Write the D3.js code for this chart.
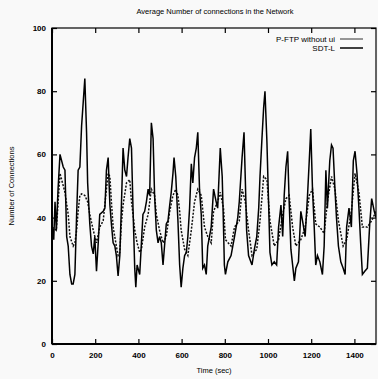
<!DOCTYPE html>
<html lang="en">
<head>
<meta charset="utf-8">
<script src="https://d3js.org/d3.v7.min.js"></script>
<style>
  html, body { margin: 0; padding: 0; background: #f9f9f9; }
  svg { display: block; }
  text { font-family: "Liberation Sans Narrow", "Liberation Sans", Arial, sans-serif; fill: #000; }
</style>
</head>
<body>
<script>
// chart data
const ftpTime = [0, 8, 14, 20, 28, 37, 52, 60, 68, 75, 83, 91, 98, 106, 114, 121, 129, 137, 145, 152, 160, 165, 175, 183, 191, 198, 206, 214, 221, 237, 245, 252, 260, 268, 275, 283, 291, 298, 306, 314, 321, 329, 337, 345, 352, 360, 368, 375, 383, 388, 394, 406, 414, 421, 429, 437, 445, 452, 460, 468, 475, 483, 491, 498, 506, 514, 521, 529, 537, 545, 552, 560, 565, 573, 583, 591, 598, 606, 614, 622, 629, 637, 645, 652, 660, 668, 675, 683, 691, 698, 706, 714, 721, 737, 748, 760, 767, 779, 788, 794, 798, 803, 814, 829, 845, 860, 867, 880, 889, 895, 901, 910, 926, 937, 948, 957, 963, 972, 980, 986, 995, 1003, 1009, 1018, 1029, 1040, 1049, 1060, 1068, 1075, 1083, 1091, 1098, 1106, 1114, 1122, 1129, 1141, 1152, 1160, 1172, 1183, 1191, 1198, 1206, 1214, 1221, 1229, 1240, 1252, 1260, 1268, 1275, 1286, 1294, 1301, 1310, 1317, 1326, 1337, 1348, 1357, 1364, 1375, 1386, 1395, 1403, 1412, 1421, 1429, 1437, 1448, 1460, 1471, 1480, 1492, 1500];
const ftpValue = [38, 33, 45, 36, 49, 60, 56, 55, 34, 31, 22, 19, 19, 22, 41, 55, 56, 69, 77, 84, 67, 51, 38, 31, 28.5, 34, 23, 32, 41, 42, 43, 55, 59, 44, 38, 32, 31, 28, 21.5, 28, 43, 62, 55, 53, 59, 65, 62, 43, 24, 18, 25, 22, 32, 41, 42, 45, 49, 47, 70, 65, 47, 36, 32, 34, 32, 25, 31, 38, 39, 44, 48, 54, 59, 53, 39, 25, 18, 24, 28, 29, 34, 43, 57, 51, 59, 62, 67, 49, 41, 24, 25, 22, 31, 37, 49, 45, 43, 62, 53, 37, 25, 22, 26, 28, 34, 40, 45, 59, 67, 52, 36, 28, 25, 30, 34, 43, 53, 65, 75, 80, 64, 44, 29, 25, 26, 25, 37, 44, 34, 47, 56, 61, 45, 30, 25, 20, 24, 26, 42, 39, 34, 47, 58, 68, 49, 37, 25, 28, 26, 22, 31, 55, 43, 58, 63, 62, 49, 40, 31, 26, 24, 22, 37, 43, 37, 58, 61, 54, 43, 32, 22, 23, 24, 38, 46, 42, 40];

const sdtTime = [0, 20, 37, 60, 75, 83, 98, 106, 114, 121, 129, 137, 152, 165, 175, 191, 206, 221, 237, 252, 260, 268, 275, 283, 298, 306, 314, 321, 329, 345, 360, 368, 375, 383, 394, 406, 414, 429, 445, 460, 475, 483, 498, 514, 529, 545, 560, 573, 583, 591, 598, 614, 629, 645, 660, 675, 691, 706, 721, 737, 748, 767, 779, 794, 803, 829, 845, 867, 880, 895, 910, 926, 948, 963, 980, 995, 1009, 1029, 1049, 1068, 1083, 1098, 1114, 1129, 1152, 1172, 1191, 1206, 1221, 1240, 1260, 1275, 1294, 1310, 1326, 1348, 1364, 1386, 1403, 1421, 1437, 1460, 1480, 1500];
const sdtValue = [37, 36, 54, 48, 41, 34, 31, 32, 36, 42, 47, 47.5, 47, 45, 41, 36, 32, 37, 39, 49, 54, 53, 45, 37, 31, 28, 29, 38, 44, 51, 52, 45, 41, 36, 32, 29, 30, 37, 41, 49, 47, 41, 36, 32, 34, 42, 47, 49, 47, 42, 36, 30, 28, 36, 45, 49, 47, 37, 34, 32, 42, 45, 48, 43, 33, 31, 37, 39, 49, 45, 36, 28, 30, 39, 53, 52, 39, 31, 33, 41, 46, 47, 37, 31, 33, 37, 47, 49, 38, 37, 35, 45, 53, 49, 39, 31, 33, 42, 54, 48, 37, 37, 39, 42];

const xTicks = [0, 200, 400, 600, 800, 1000, 1200, 1400];
const yTicks = [0, 20, 40, 60, 80, 100];
const seriesNames = ["P-FTP without ui", "SDT-L"];

const width = 378, height = 379;
const margin = {left: 52, right: 2, top: 28, bottom: 35};

const svg = d3.select("body").append("svg")
    .attr("width", width)
    .attr("height", height);

const x = d3.scaleLinear().domain([0, 1500]).range([margin.left, width - margin.right]);
const y = d3.scaleLinear().domain([0, 100]).range([height - margin.bottom, margin.top]);

// frame
svg.append("rect")
    .attr("x", x(0)).attr("y", y(100))
    .attr("width", x(1500) - x(0)).attr("height", y(0) - y(100))
    .attr("fill", "none").attr("stroke", "#000").attr("stroke-width", 1.2);
svg.append("line")
    .attr("x1", x(0)).attr("x2", x(0)).attr("y1", y(100)).attr("y2", y(0))
    .attr("stroke", "#000").attr("stroke-width", 2);
svg.append("line")
    .attr("x1", x(0)).attr("x2", x(1500)).attr("y1", y(0)).attr("y2", y(0))
    .attr("stroke", "#000").attr("stroke-width", 2);

// axes, ticks inward
const xAxis = d3.axisBottom(x).tickValues(xTicks).tickSize(-5).tickPadding(8).tickFormat(d3.format("d"));
const xAxisTop = d3.axisTop(x).tickValues(xTicks).tickSize(-5).tickFormat("");
const yAxis = d3.axisLeft(y).tickValues(yTicks).tickSize(-5).tickPadding(6);
const yAxisRight = d3.axisRight(y).tickValues(yTicks).tickSize(-5).tickFormat("");

function styleAxis(g) {
  g.select(".domain").remove();
  g.selectAll(".tick line").attr("stroke", "#000").attr("stroke-width", 1.2);
  g.selectAll(".tick text").attr("font-size", 8).attr("font-weight", "bold").attr("fill", "#000");
}

svg.append("g").attr("transform", `translate(0,${y(0)})`).call(xAxis).call(styleAxis);
svg.append("g").attr("transform", `translate(0,${y(100)})`).call(xAxisTop).call(styleAxis);
svg.append("g").attr("transform", `translate(${x(0)},0)`).call(yAxis).call(styleAxis);
svg.append("g").attr("transform", `translate(${x(1500)},0)`).call(yAxisRight).call(styleAxis);

// lines
svg.append("clipPath").attr("id", "plot").append("rect")
    .attr("x", x(0)).attr("y", y(100))
    .attr("width", x(1500) - x(0)).attr("height", y(0) - y(100));

const line = d3.line().x(d => x(d[0])).y(d => y(d[1]));

svg.append("path")
    .datum(d3.zip(sdtTime, sdtValue))
    .attr("clip-path", "url(#plot)")
    .attr("d", line)
    .attr("fill", "none").attr("stroke", "#111").attr("stroke-width", 1.5)
    .attr("stroke-dasharray", "2,1.5");

svg.append("path")
    .datum(d3.zip(ftpTime, ftpValue))
    .attr("clip-path", "url(#plot)")
    .attr("d", line)
    .attr("fill", "none").attr("stroke", "#000").attr("stroke-width", 1.5);

// legend
const legend = svg.append("g");
seriesNames.forEach((name, i) => {
  const ly = 39 + i * 9;
  legend.append("text")
      .attr("x", 335).attr("y", ly + 3)
      .attr("text-anchor", "end")
      .attr("font-size", 8)
      .text(name);
  legend.append("line")
      .attr("x1", 340).attr("x2", 363).attr("y1", ly).attr("y2", ly)
      .attr("stroke", "#000").attr("stroke-width", i === 0 ? 0.8 : 1.5);
});

// titles
svg.append("text")
    .attr("x", 215).attr("y", 14)
    .attr("text-anchor", "middle")
    .attr("font-size", 7.5)
    .text("Average Number of connections in the Network");

svg.append("text")
    .attr("x", x(750)).attr("y", 373)
    .attr("text-anchor", "middle")
    .attr("font-size", 7.5)
    .text("Time (sec)");

svg.append("text")
    .attr("transform", `translate(14,${y(50)}) rotate(-90)`)
    .attr("text-anchor", "middle")
    .attr("font-size", 7.5)
    .text("Number of Connections");
</script>
</body>
</html>
